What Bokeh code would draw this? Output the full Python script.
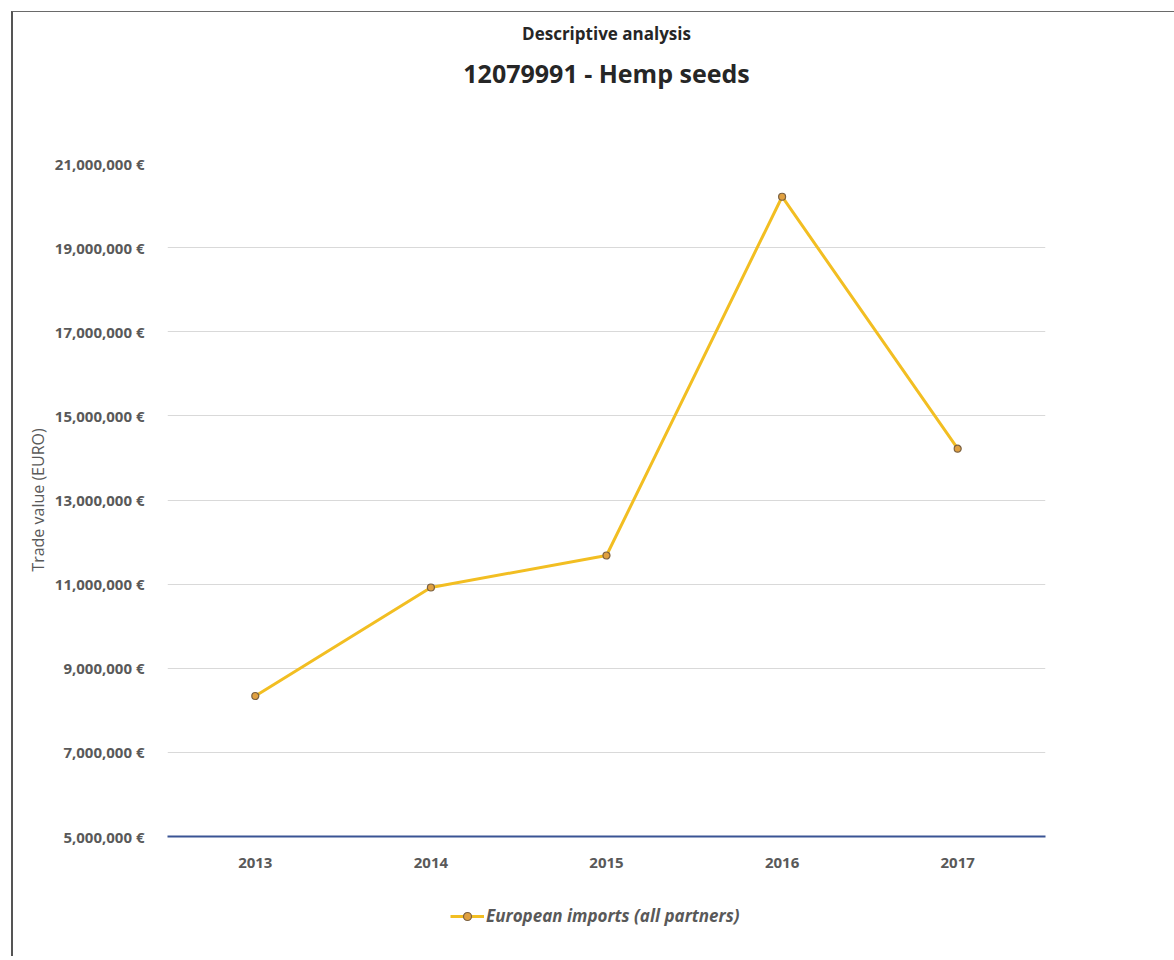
from bokeh.plotting import figure
from bokeh.layouts import column
from bokeh.models import Range1d, FixedTicker, Legend, LegendItem, Title
from bokeh.embed import file_html
from bokeh.resources import INLINE

# Trade value of hemp seed imports (CN 12079991), all partners, in euro
years = ["2013", "2014", "2015", "2016", "2017"]
imports_eur = [8_340_000, 10_920_000, 11_680_000, 20_210_000, 14_220_000]
series_name = "European imports (all partners)"

y_ticks = [5_000_000, 7_000_000, 9_000_000, 11_000_000, 13_000_000,
           15_000_000, 17_000_000, 19_000_000, 21_000_000]
y_tick_labels = ["5,000,000 €", "7,000,000 €", "9,000,000 €", "11,000,000 €",
                 "13,000,000 €", "15,000,000 €", "17,000,000 €", "19,000,000 €",
                 "21,000,000 €"]

FONT = "Open Sans"
GREY = "#595959"
LINE = "#F2BE22"
MARKER_FILL = "#E0A040"
MARKER_LINE = "#7A6040"

p = figure(
    x_range=years,
    y_range=Range1d(y_ticks[0], y_ticks[-1]),
    frame_width=878, frame_height=673,
    output_backend="svg", toolbar_location=None,
    min_border_left=154, min_border_right=129,
    min_border_top=151, min_border_bottom=50,
)
p.outline_line_color = None
p.background_fill_color = "white"
p.border_fill_color = "white"

# titles, stacked above an empty spacer that keeps them clear of the plot area
p.add_layout(Title(text=" ", text_font=FONT, text_font_size="10px", standoff=50), "above")
p.add_layout(Title(text="12079991 - Hemp seeds", text_font=FONT, text_font_size="25px",
                   text_font_style="bold", text_color="#262626", align="center",
                   standoff=15), "above")
p.add_layout(Title(text="Descriptive analysis", text_font=FONT, text_font_size="17px",
                   text_font_style="bold", text_color="#262626", align="center",
                   standoff=4), "above")

# grid
p.xgrid.grid_line_color = None
p.ygrid.ticker = FixedTicker(ticks=y_ticks)
p.ygrid.grid_line_color = "#D9D9D9"
p.ygrid.grid_line_width = 1

# y axis
p.yaxis.ticker = FixedTicker(ticks=y_ticks)
p.yaxis.major_label_overrides = {t: lab for t, lab in zip(y_ticks, y_tick_labels)}
p.yaxis.axis_line_color = None
p.yaxis.major_tick_line_color = None
p.yaxis.minor_tick_line_color = None
p.yaxis.major_label_standoff = 17
p.yaxis.major_label_text_font = FONT
p.yaxis.major_label_text_font_size = "15px"
p.yaxis.major_label_text_font_style = "bold"
p.yaxis.major_label_text_color = GREY
p.yaxis.axis_label = "Trade value (EURO)"
p.yaxis.axis_label_text_font = FONT
p.yaxis.axis_label_text_font_size = "16px"
p.yaxis.axis_label_text_font_style = "normal"
p.yaxis.axis_label_text_color = GREY
p.yaxis.axis_label_standoff = 3

# x axis (baseline at the axis minimum)
p.xaxis.axis_line_color = "#3A5494"
p.xaxis.axis_line_width = 2
p.xaxis.major_tick_line_color = None
p.xaxis.minor_tick_line_color = None
p.xaxis.major_label_standoff = 15
p.xaxis.major_label_text_font = FONT
p.xaxis.major_label_text_font_size = "15px"
p.xaxis.major_label_text_font_style = "bold"
p.xaxis.major_label_text_color = GREY

# series
p.line(years, imports_eur, line_color=LINE, line_width=3)
p.scatter(years, imports_eur, size=7, marker="circle",
          fill_color=MARKER_FILL, line_color=MARKER_LINE, line_width=1.2)

# legend strip under the chart: same series styling, renderers hidden, key only
leg = figure(
    x_range=years,
    y_range=Range1d(y_ticks[0], y_ticks[-1]),
    frame_width=878, frame_height=70,
    output_backend="svg", toolbar_location=None,
    x_axis_location=None, y_axis_location=None,
    min_border_left=154, min_border_right=129,
    min_border_top=0, min_border_bottom=0,
)
leg.outline_line_color = None
leg.grid.visible = False
leg.background_fill_color = "white"
leg.border_fill_color = "white"
key_line = leg.line(years, imports_eur, line_color=LINE, line_width=3, visible=False)
key_dot = leg.scatter(years, imports_eur, size=7, marker="circle",
                      fill_color=MARKER_FILL, line_color=MARKER_LINE, line_width=1.2,
                      visible=False)

legend = Legend(items=[LegendItem(label=series_name, renderers=[key_line, key_dot])],
                orientation="horizontal", location=(283, 29),
                label_text_font=FONT, label_text_font_size="17px",
                label_text_font_style="bold italic", label_text_color=GREY,
                glyph_width=34, label_standoff=2, border_line_color=None,
                background_fill_alpha=0, margin=0, padding=0, spacing=0,
                click_policy="none")
leg.add_layout(legend, "center")

page = column(p, leg, spacing=0,
              styles={"margin-left": "11px", "margin-top": "11px",
                      "border-left": "2px solid #555555", "border-top": "1px solid #6a6a6a"})

open("out.html", "w").write(file_html(page, INLINE))
